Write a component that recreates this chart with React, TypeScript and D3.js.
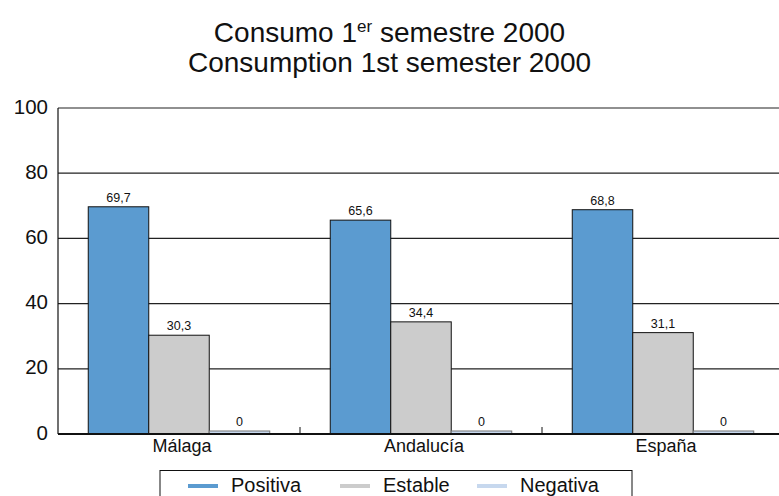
import React from "react";
import * as d3 from "d3";

const categories = ["Málaga", "Andalucía", "España"];
const seriesNames = ["Positiva", "Estable", "Negativa"];
const seriesColors = ["#5b9bd0", "#cccccc", "#c7d8ee"];
const positiva = [69.7, 65.6, 68.8];
const estable = [30.3, 34.4, 31.1];
const negativa = [0, 0, 0];
const yTicks = [0, 20, 40, 60, 80, 100];

const W = 779;
const H = 496;
const left = 58;
const right = 784;
const top = 108;
const bottom = 434;

export default function App() {
  const series = [positiva, estable, negativa];
  const x = d3.scaleBand<string>().domain(categories).range([left, right]).paddingInner(0).paddingOuter(0);
  const xi = d3.scaleBand<string>().domain(seriesNames).range([0, x.bandwidth()]).paddingInner(0).paddingOuter(0.5);
  const y = d3.scaleLinear().domain([0, 100]).range([bottom, top]);
  const fmt = (v: number) => String(v).replace(".", ",");
  const font = "Helvetica, Arial, 'Liberation Sans', sans-serif";

  return (
    <svg width={W} height={H} style={{ position: "absolute", left: 0, top: 0, fontFamily: font }}>
      <rect x={0} y={0} width={W} height={H} fill="#fff" />
      <text x={W / 2} y={42} textAnchor="middle" fontSize={28} fill="#111">
        Consumo 1<tspan fontSize={17} dy={-10}>er</tspan>
        <tspan dy={10}> semestre 2000</tspan>
      </text>
      <text x={W / 2} y={72} textAnchor="middle" fontSize={28} fill="#111">
        Consumption 1st semester 2000
      </text>

      {yTicks.map((t) => (
        <g key={t}>
          {t > 0 && <line x1={left} x2={right} y1={y(t)} y2={y(t)} stroke="#222" strokeWidth={1.2} />}
          <text x={48} y={y(t) - 2} textAnchor="end" dominantBaseline="central" fontSize={20.5} fill="#111">
            {t}
          </text>
        </g>
      ))}
      <line x1={left} x2={left} y1={top} y2={bottom} stroke="#111" strokeWidth={1.2} />

      {categories.map((c, ci) => (
        <g key={c}>
          {series.map((s, si) => {
            const v = s[ci];
            const bx = (x(c) as number) + (xi(seriesNames[si]) as number);
            const bw = xi.bandwidth();
            const h = Math.max(bottom - y(v), 3);
            return (
              <g key={si}>
                <rect
                  x={bx}
                  y={bottom - h}
                  width={bw}
                  height={h}
                  fill={seriesColors[si]}
                  stroke={si === 2 ? "#777" : "#111"}
                  strokeWidth={1}
                />
                <text x={bx + bw / 2} y={bottom - h - 5} textAnchor="middle" fontSize={12.5} fill="#111">
                  {fmt(v)}
                </text>
              </g>
            );
          })}
          <text x={(x(c) as number) + x.bandwidth() / 2 + 3} y={452} textAnchor="middle" fontSize={18} fill="#111">
            {c}
          </text>
          {ci > 0 && (
            <line x1={x(c) as number} x2={x(c) as number} y1={bottom - 7} y2={bottom} stroke="#111" strokeWidth={1} />
          )}
        </g>
      ))}
      <line x1={left} x2={right} y1={bottom} y2={bottom} stroke="#111" strokeWidth={2} />

      <rect x={160} y={470.5} width={472} height={40} fill="#fff" stroke="#111" strokeWidth={1} />
      {seriesNames.map((n, i) => {
        const lx = [188, 340, 477][i];
        return (
          <g key={n}>
            <line x1={lx} x2={lx + 30} y1={486} y2={486} stroke={seriesColors[i]} strokeWidth={4} />
            <text x={lx + 43} y={491.5} fontSize={20} fill="#111">
              {n}
            </text>
          </g>
        );
      })}
    </svg>
  );
}
